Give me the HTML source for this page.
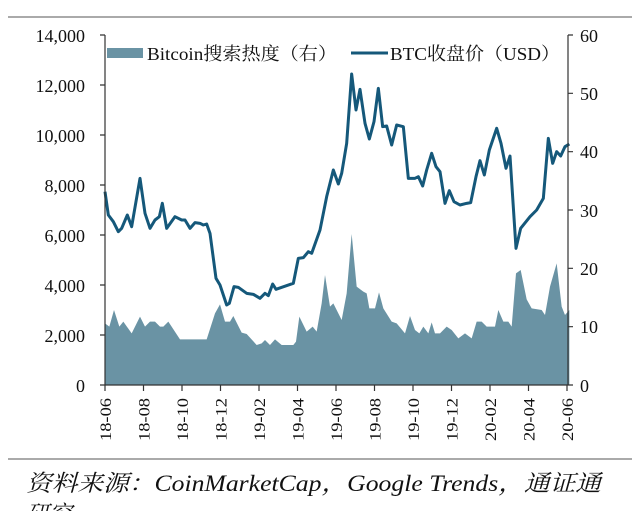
<!DOCTYPE html>
<html><head><meta charset="utf-8"><style>
body{margin:0;background:#fff;width:640px;height:511px;overflow:hidden;font-family:"Liberation Serif","Noto Serif CJK SC",serif}
</style></head><body>
<svg width="640" height="511" viewBox="0 0 640 511" xmlns="http://www.w3.org/2000/svg" style="position:absolute;left:0;top:0">
<line x1="8" y1="17" x2="632" y2="17" stroke="#aaa" stroke-width="2"/>
<line x1="8" y1="459" x2="632" y2="459" stroke="#aaa" stroke-width="2"/>
<g transform="translate(100 60) scale(0.333333)">
<polygon fill="#6a93a4" points="15,975 15,790 28,800 42,750 58,800 70,785 95,820 120,770 135,800 150,785 165,785 180,800 190,800 205,785 240,838 320,838 345,760 360,733 375,785 390,785 400,768 425,818 440,822 470,855 485,850 495,840 510,855 525,838 545,855 580,855 588,845 598,770 620,815 638,800 650,815 665,730 675,645 690,740 700,730 725,780 740,700 755,522 770,680 790,695 800,700 808,745 825,745 837,697 850,745 875,785 890,790 915,820 930,768 945,810 958,820 970,800 985,820 995,787 1005,820 1020,820 1040,800 1055,810 1075,835 1095,820 1115,835 1130,785 1145,785 1160,800 1185,800 1195,750 1210,785 1225,785 1235,800 1248,640 1262,630 1280,718 1295,745 1325,750 1335,765 1350,680 1370,610 1385,740 1395,765 1408,750 1408,975"/>
<polyline fill="none" stroke="#15587a" stroke-width="9" stroke-linejoin="round" points="15,395 25,465 40,485 55,515 65,505 82,465 95,500 120,355 135,460 150,505 165,480 178,470 187,430 200,505 225,470 245,480 255,480 270,505 285,488 300,490 310,495 320,492 330,520 348,655 360,675 380,735 388,730 402,680 415,682 440,700 460,703 480,715 495,700 505,707 518,672 528,688 580,670 595,595 610,593 625,575 635,580 660,510 680,410 700,330 715,372 725,340 740,250 755,42 768,150 780,88 795,190 808,237 822,185 835,85 848,200 860,198 875,255 890,195 910,200 925,355 945,355 955,350 968,378 980,330 995,280 1008,320 1020,335 1035,430 1048,392 1062,425 1080,435 1100,430 1112,428 1128,350 1140,302 1153,345 1168,270 1190,205 1203,250 1218,325 1230,288 1248,565 1262,505 1290,470 1310,450 1330,415 1345,235 1358,310 1370,275 1382,288 1395,260 1408,252"/>
</g>
<g stroke="#333" stroke-width="1.2" fill="none">
<line x1="105" y1="35" x2="105" y2="385"/>
<line x1="568" y1="35" x2="568" y2="385"/>
<line x1="105" y1="385" x2="568" y2="385"/>
<path d="M100 35H105M100 85H105M100 135H105M100 185H105M100 235H105M100 285H105M100 335H105M100 385H105"/>
<path d="M568 35H573M568 93.3H573M568 151.7H573M568 210H573M568 268.3H573M568 326.7H573M568 385H573"/>
<path d="M105 385V391M143.5 385V391M182 385V391M220.5 385V391M259 385V391M297.5 385V391M336 385V391M374.5 385V391M413 385V391M451.5 385V391M490 385V391M528.5 385V391M567 385V391"/>
</g>
<g font-size="18" fill="#111" text-anchor="end">
<text x="85" y="42">14,000</text><text x="85" y="92">12,000</text><text x="85" y="142">10,000</text><text x="85" y="192">8,000</text><text x="85" y="242">6,000</text><text x="85" y="292">4,000</text><text x="85" y="342">2,000</text><text x="85" y="392">0</text>
</g>
<g font-size="18" fill="#111">
<text x="580" y="42">60</text><text x="580" y="100">50</text><text x="580" y="158">40</text><text x="580" y="217">30</text><text x="580" y="275">20</text><text x="580" y="333">10</text><text x="580" y="392">0</text>
</g>
<g font-size="16" fill="#111" text-anchor="start">
<text transform="translate(111 441) rotate(-90)" textLength="43" lengthAdjust="spacingAndGlyphs">18-06</text>
<text transform="translate(149.5 441) rotate(-90)" textLength="43" lengthAdjust="spacingAndGlyphs">18-08</text>
<text transform="translate(188 441) rotate(-90)" textLength="43" lengthAdjust="spacingAndGlyphs">18-10</text>
<text transform="translate(226.5 441) rotate(-90)" textLength="43" lengthAdjust="spacingAndGlyphs">18-12</text>
<text transform="translate(265 441) rotate(-90)" textLength="43" lengthAdjust="spacingAndGlyphs">19-02</text>
<text transform="translate(303.5 441) rotate(-90)" textLength="43" lengthAdjust="spacingAndGlyphs">19-04</text>
<text transform="translate(342 441) rotate(-90)" textLength="43" lengthAdjust="spacingAndGlyphs">19-06</text>
<text transform="translate(380.5 441) rotate(-90)" textLength="43" lengthAdjust="spacingAndGlyphs">19-08</text>
<text transform="translate(419 441) rotate(-90)" textLength="43" lengthAdjust="spacingAndGlyphs">19-10</text>
<text transform="translate(457.5 441) rotate(-90)" textLength="43" lengthAdjust="spacingAndGlyphs">19-12</text>
<text transform="translate(496 441) rotate(-90)" textLength="43" lengthAdjust="spacingAndGlyphs">20-02</text>
<text transform="translate(534.5 441) rotate(-90)" textLength="43" lengthAdjust="spacingAndGlyphs">20-04</text>
<text transform="translate(573 441) rotate(-90)" textLength="43" lengthAdjust="spacingAndGlyphs">20-06</text>
</g>
<rect x="107" y="48" width="36" height="10" fill="#6a93a4"/>
<text x="147" y="60" font-size="18" fill="#111" textLength="190" lengthAdjust="spacingAndGlyphs">Bitcoin搜索热度（右）</text>
<line x1="351" y1="53" x2="388" y2="53" stroke="#15587a" stroke-width="3"/>
<text x="390" y="60" font-size="18" fill="#111" textLength="170" lengthAdjust="spacingAndGlyphs">BTC收盘价（USD）</text>
<text x="26" y="491" font-size="23" font-style="italic" fill="#111" textLength="575" lengthAdjust="spacingAndGlyphs">资料来源：CoinMarketCap，Google Trends，通证通</text>
<text x="26" y="522" font-size="23" font-style="italic" fill="#111">研究</text>
</svg>
</body></html>
